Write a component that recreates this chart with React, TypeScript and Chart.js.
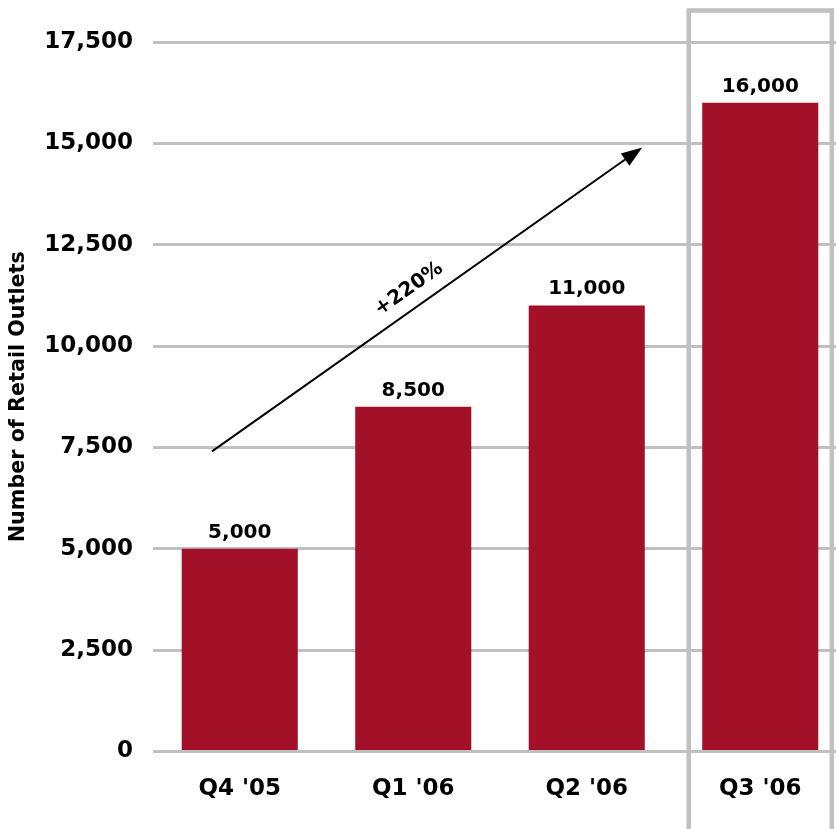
import React, { useEffect, useRef } from "react";
import { Chart, registerables } from "chart.js";

Chart.register(...registerables);

const categories = ["Q4 '05", "Q1 '06", "Q2 '06", "Q3 '06"];
const outlets = [5000, 8500, 11000, 16000];
const yTicks = { min: 0, max: 17500, step: 2500 };
const arrowFrom = { x: -0.16, y: 7400 };
const arrowTo = { x: 2.32, y: 14900 };
const growthLabel = "+220%";
const highlightIndex = 3;

const FONT = "'DejaVu Sans', sans-serif";
const BAR = "#A31129";
const GRID = "#c0c0c0";

const overlayPlugin = {
  id: "overlay",
  afterDatasetsDraw(chart: any) {
    const ctx = chart.ctx as CanvasRenderingContext2D;
    const xs = chart.scales.x;
    const ys = chart.scales.y;
    const meta = chart.getDatasetMeta(0);

    // value labels
    ctx.save();
    ctx.fillStyle = "#000";
    ctx.font = `bold 20px ${FONT}`;
    ctx.textAlign = "center";
    ctx.textBaseline = "alphabetic";
    meta.data.forEach((bar: any, i: number) => {
      ctx.fillText(outlets[i].toLocaleString("en-US"), bar.x, bar.y - 11);
    });
    ctx.restore();

    // highlight box around last category
    const hb = meta.data[highlightIndex];
    const half = hb.width / 2 + 13.5;
    const top = ys.getPixelForValue(yTicks.max) - 31.5;
    ctx.save();
    ctx.strokeStyle = GRID;
    ctx.lineWidth = 4.5;
    ctx.beginPath();
    ctx.moveTo(hb.x - half, chart.height + 10);
    ctx.lineTo(hb.x - half, top);
    ctx.lineTo(hb.x + half, top);
    ctx.lineTo(hb.x + half, chart.height + 10);
    ctx.stroke();
    ctx.restore();

    // arrow
    const x1 = xs.getPixelForValue(arrowFrom.x);
    const y1 = ys.getPixelForValue(arrowFrom.y);
    const x2 = xs.getPixelForValue(arrowTo.x);
    const y2 = ys.getPixelForValue(arrowTo.y);
    const ang = Math.atan2(y2 - y1, x2 - x1);
    const headLen = 21;
    const headHalf = 7.5;
    const bx = x2 - headLen * Math.cos(ang);
    const by = y2 - headLen * Math.sin(ang);
    ctx.save();
    ctx.strokeStyle = "#000";
    ctx.fillStyle = "#000";
    ctx.lineWidth = 2;
    ctx.beginPath();
    ctx.moveTo(x1, y1);
    ctx.lineTo(bx, by);
    ctx.stroke();
    ctx.beginPath();
    ctx.moveTo(x2, y2);
    ctx.lineTo(bx + headHalf * Math.sin(ang), by - headHalf * Math.cos(ang));
    ctx.lineTo(bx - headHalf * Math.sin(ang), by + headHalf * Math.cos(ang));
    ctx.closePath();
    ctx.fill();

    // growth label
    const t = 0.483;
    const mx = x1 + (x2 - x1) * t;
    const my = y1 + (y2 - y1) * t;
    const off = 19;
    const tx = mx + off * Math.sin(ang);
    const ty = my - off * Math.cos(ang);
    ctx.translate(tx, ty);
    ctx.rotate(ang);
    ctx.font = `bold 20px ${FONT}`;
    ctx.textAlign = "center";
    ctx.textBaseline = "middle";
    ctx.fillText(growthLabel, 0, 0);
    ctx.restore();
  },
};

export default function App() {
  const ref = useRef<HTMLCanvasElement>(null);

  useEffect(() => {
    document.body.style.margin = "0";
    document.body.style.overflow = "hidden";
    const chart = new Chart(ref.current!, {
      type: "bar",
      data: {
        labels: categories,
        datasets: [
          {
            data: outlets,
            backgroundColor: BAR,
            barPercentage: 1,
            categoryPercentage: 0.669,
          },
        ],
      },
      options: {
        animation: false,
        responsive: false,
        layout: { padding: { top: 42, right: 3, bottom: 10, left: 0 } },
        plugins: { legend: { display: false }, tooltip: { enabled: false } },
        scales: {
          x: {
            grid: { display: false },
            border: { display: false },
            ticks: {
              color: "#000",
              font: { family: FONT, size: 23, weight: "bold" },
              padding: 16,
            },
          },
          y: {
            min: yTicks.min,
            max: yTicks.max,
            afterFit: (s: any) => {
              s.width = 153;
            },
            grid: { color: GRID, lineWidth: 3, drawTicks: false },
            border: { display: false },
            ticks: {
              stepSize: yTicks.step,
              color: "#000",
              padding: 20,
              font: { family: FONT, size: 23, weight: "bold" },
              callback: (v: any) => Number(v).toLocaleString("en-US"),
            },
            title: {
              display: true,
              text: "Number of Retail Outlets",
              color: "#000",
              font: { family: FONT, size: 20.7, weight: "bold" },
              padding: { top: 6, bottom: 0 },
            },
          },
        },
      },
      plugins: [overlayPlugin],
    });
    return () => chart.destroy();
  }, []);

  return (
    <div style={{ position: "fixed", left: 0, top: 0, width: 850, height: 829 }}>
      <canvas ref={ref} width={850} height={829} />
    </div>
  );
}
